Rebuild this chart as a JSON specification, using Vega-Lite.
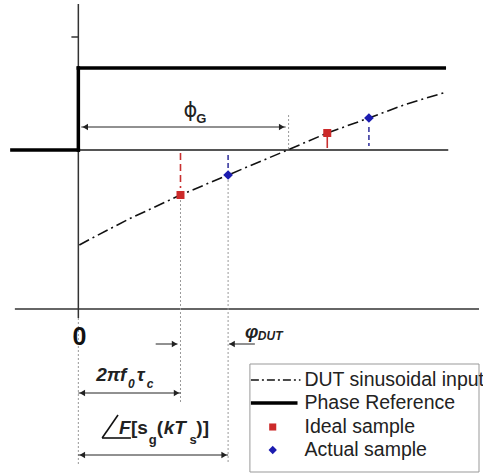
{
  "$schema": "https://vega.github.io/schema/vega-lite/v6.json",
  "width": 483,
  "height": 474,
  "autosize": {"type": "fit", "contains": "padding"},
  "padding": 0,
  "background": "white",
  "config": {"view": {"stroke": null}, "text": {"font": "Liberation Sans"}},
  "datasets": {
    "segs": [
      {"x": 0, "y": 1.46, "x2": 0, "y2": -1.68, "k": "axis"},
      {"x": -0.07, "y": 1.13, "x2": 0, "y2": 1.13, "k": "axis"},
      {"x": -0.64, "y": -1.59, "x2": 4.04, "y2": -1.59, "k": "axis"},
      {"x": 0, "y": 0, "x2": 3.73, "y2": 0, "k": "zero"},
      {"x": -0.67, "y": 0, "x2": 0, "y2": 0, "k": "ref"},
      {"x": 0, "y": 0, "x2": 0, "y2": 0.82, "k": "ref"},
      {"x": 0, "y": 0.82, "x2": 3.69, "y2": 0.82, "k": "ref"},
      {"x": 2.12, "y": 0.35, "x2": 2.12, "y2": 0, "k": "dot"},
      {"x": 1.03, "y": -0.5, "x2": 1.03, "y2": -2.52, "k": "dot"},
      {"x": 1.51, "y": -0.3, "x2": 1.51, "y2": -3.13, "k": "dot"},
      {"x": 0, "y": -1.68, "x2": 0, "y2": -3.15, "k": "dot"},
      {"x": 1.03, "y": -0.03, "x2": 1.03, "y2": -0.38, "k": "rdash"},
      {"x": 1.51, "y": -0.05, "x2": 1.51, "y2": -0.2, "k": "bdash"},
      {"x": 2.93, "y": 0.23, "x2": 2.93, "y2": 0.04, "k": "bdash"},
      {"x": 2.51, "y": 0.13, "x2": 2.51, "y2": 0.02, "k": "rsolid"},
      {"x": 0.03, "y": 0.23, "x2": 2.09, "y2": 0.23, "k": "arrow"},
      {"x": 0.78, "y": -1.94, "x2": 1.0, "y2": -1.94, "k": "arrow"},
      {"x": 1.78, "y": -1.94, "x2": 1.52, "y2": -1.94, "k": "arrow"},
      {"x": 0, "y": -2.43, "x2": 1.03, "y2": -2.43, "k": "arrow"},
      {"x": 0, "y": -3.05, "x2": 1.51, "y2": -3.05, "k": "arrow"},
      {"x": 0.24, "y": -2.88, "x2": 0.4, "y2": -2.65, "k": "angle"},
      {"x": 0.24, "y": -2.88, "x2": 0.53, "y2": -2.88, "k": "angle"}
    ],
    "wave": [
      {"x": 0.01, "y": -0.95},
      {"x": 0.14, "y": -0.88},
      {"x": 0.51, "y": -0.69},
      {"x": 1.03, "y": -0.45},
      {"x": 1.51, "y": -0.25},
      {"x": 2.11, "y": 0.0},
      {"x": 2.51, "y": 0.17},
      {"x": 2.93, "y": 0.32},
      {"x": 3.31, "y": 0.46},
      {"x": 3.71, "y": 0.58}
    ],
    "ideal": [
      {"x": 1.03, "y": -0.45},
      {"x": 2.51, "y": 0.17}
    ],
    "actual": [
      {"x": 1.51, "y": -0.25},
      {"x": 2.93, "y": 0.32}
    ],
    "heads": [
      {"x": 0.07, "y": 0.23, "d": "left"},
      {"x": 2.05, "y": 0.23, "d": "right"},
      {"x": 0.97, "y": -1.94, "d": "right"},
      {"x": 1.55, "y": -1.94, "d": "left"},
      {"x": 0.04, "y": -2.43, "d": "left"},
      {"x": 0.99, "y": -2.43, "d": "right"},
      {"x": 0.04, "y": -3.05, "d": "left"},
      {"x": 1.47, "y": -3.05, "d": "right"}
    ],
    "labels": [
      {"t": "0", "x": -0.06, "y": -1.87, "k": "big"},
      {"t": "ϕ", "x": 1.06, "y": 0.39, "k": "phi"},
      {"t": "G", "x": 1.19, "y": 0.31, "k": "sub"},
      {"t": "φ", "x": 1.68, "y": -1.82, "k": "bi"},
      {"t": "DUT", "x": 1.81, "y": -1.86, "k": "bisub"},
      {"t": "2π", "x": 0.18, "y": -2.25, "k": "bi"},
      {"t": "f", "x": 0.42, "y": -2.25, "k": "bi"},
      {"t": "0", "x": 0.5, "y": -2.34, "k": "bisub"},
      {"t": "τ", "x": 0.59, "y": -2.25, "k": "bi"},
      {"t": "c", "x": 0.69, "y": -2.34, "k": "bisub"},
      {"t": "F", "x": 0.41, "y": -2.78, "k": "bi"},
      {"t": "[s", "x": 0.53, "y": -2.78, "k": "b"},
      {"t": "g", "x": 0.71, "y": -2.9, "k": "sub"},
      {"t": "(", "x": 0.79, "y": -2.78, "k": "b"},
      {"t": "kT", "x": 0.86, "y": -2.78, "k": "bi"},
      {"t": "s", "x": 1.12, "y": -2.9, "k": "sub"},
      {"t": ")]", "x": 1.19, "y": -2.78, "k": "b"}
    ],
    "box": [{"x": 1.73, "x2": 4.04, "y": -2.14, "y2": -3.22}],
    "legline": [
      {"x": 1.74, "y": -2.3},
      {"x": 2.24, "y": -2.3}
    ],
    "legref": [{"x": 1.74, "y": -2.53, "x2": 2.21, "y2": -2.53}],
    "legideal": [{"x": 1.96, "y": -2.77}],
    "legactual": [{"x": 1.96, "y": -3.0}],
    "legtext": [
      {"t": "DUT sinusoidal input", "x": 2.28, "y": -2.3},
      {"t": "Phase Reference", "x": 2.28, "y": -2.53},
      {"t": "Ideal sample", "x": 2.28, "y": -2.77},
      {"t": "Actual sample", "x": 2.28, "y": -3.0}
    ]
  },
  "encoding": {
    "x": {"field": "x", "type": "quantitative", "scale": {"domain": [-0.79, 4.04], "nice": false, "zero": false}, "axis": null},
    "y": {"field": "y", "type": "quantitative", "scale": {"domain": [-3.24, 1.5], "nice": false, "zero": false}, "axis": null}
  },
  "layer": [
    {"data": {"name": "segs"}, "transform": [{"filter": "datum.k == 'axis'"}], "mark": {"type": "rule", "color": "#333", "strokeWidth": 1.5}, "encoding": {"x2": {"field": "x2"}, "y2": {"field": "y2"}}},
    {"data": {"name": "segs"}, "transform": [{"filter": "datum.k == 'zero'"}], "mark": {"type": "rule", "color": "#555", "strokeWidth": 2.2}, "encoding": {"x2": {"field": "x2"}, "y2": {"field": "y2"}}},
    {"data": {"name": "segs"}, "transform": [{"filter": "datum.k == 'ref'"}], "mark": {"type": "rule", "color": "#000", "strokeWidth": 3.5, "strokeCap": "square"}, "encoding": {"x2": {"field": "x2"}, "y2": {"field": "y2"}}},
    {"data": {"name": "segs"}, "transform": [{"filter": "datum.k == 'dot'"}], "mark": {"type": "rule", "color": "#999", "strokeWidth": 1, "strokeDash": [2, 2]}, "encoding": {"x2": {"field": "x2"}, "y2": {"field": "y2"}}},
    {"data": {"name": "segs"}, "transform": [{"filter": "datum.k == 'rdash'"}], "mark": {"type": "rule", "color": "#c83030", "strokeWidth": 1.6, "strokeDash": [7, 4]}, "encoding": {"x2": {"field": "x2"}, "y2": {"field": "y2"}}},
    {"data": {"name": "segs"}, "transform": [{"filter": "datum.k == 'bdash'"}], "mark": {"type": "rule", "color": "#3a3aa0", "strokeWidth": 1.6, "strokeDash": [5, 3]}, "encoding": {"x2": {"field": "x2"}, "y2": {"field": "y2"}}},
    {"data": {"name": "segs"}, "transform": [{"filter": "datum.k == 'rsolid'"}], "mark": {"type": "rule", "color": "#c83030", "strokeWidth": 1.6}, "encoding": {"x2": {"field": "x2"}, "y2": {"field": "y2"}}},
    {"data": {"name": "segs"}, "transform": [{"filter": "datum.k == 'arrow'"}], "mark": {"type": "rule", "color": "#222", "strokeWidth": 1}, "encoding": {"x2": {"field": "x2"}, "y2": {"field": "y2"}}},
    {"data": {"name": "segs"}, "transform": [{"filter": "datum.k == 'angle'"}], "mark": {"type": "rule", "color": "#111", "strokeWidth": 1.6}, "encoding": {"x2": {"field": "x2"}, "y2": {"field": "y2"}}},
    {"data": {"name": "wave"}, "mark": {"type": "line", "color": "#111", "strokeWidth": 1.6, "strokeDash": [11, 4, 2, 4]}, "encoding": {"order": {"field": "x", "type": "quantitative"}}},
    {"data": {"name": "ideal"}, "mark": {"type": "point", "filled": true, "opacity": 1, "shape": "square", "color": "#cc2a2a", "size": 64}},
    {"data": {"name": "actual"}, "mark": {"type": "point", "filled": true, "opacity": 1, "shape": "diamond", "color": "#1c1cb0", "size": 95}},
    {"data": {"name": "heads"}, "transform": [{"filter": "datum.d == 'left'"}], "mark": {"type": "point", "filled": true, "opacity": 1, "color": "#222", "size": 40, "shape": "triangle-left"}},
    {"data": {"name": "heads"}, "transform": [{"filter": "datum.d == 'right'"}], "mark": {"type": "point", "filled": true, "opacity": 1, "color": "#222", "size": 40, "shape": "triangle-right"}},
    {"data": {"name": "labels"}, "transform": [{"filter": "datum.k == 'big'"}], "mark": {"type": "text", "align": "left", "baseline": "middle", "fontSize": 25, "fontWeight": "bold", "color": "#111"}, "encoding": {"text": {"field": "t"}}},
    {"data": {"name": "labels"}, "transform": [{"filter": "datum.k == 'phi'"}], "mark": {"type": "text", "align": "left", "baseline": "middle", "fontSize": 21, "color": "#222", "font": "DejaVu Sans"}, "encoding": {"text": {"field": "t"}}},
    {"data": {"name": "labels"}, "transform": [{"filter": "datum.k == 'sub'"}], "mark": {"type": "text", "align": "left", "baseline": "middle", "fontSize": 13, "fontWeight": "bold", "color": "#222"}, "encoding": {"text": {"field": "t"}}},
    {"data": {"name": "labels"}, "transform": [{"filter": "datum.k == 'bisub'"}], "mark": {"type": "text", "align": "left", "baseline": "middle", "fontSize": 12, "fontWeight": "bold", "fontStyle": "italic", "color": "#222"}, "encoding": {"text": {"field": "t"}}},
    {"data": {"name": "labels"}, "transform": [{"filter": "datum.k == 'bi'"}], "mark": {"type": "text", "align": "left", "baseline": "middle", "fontSize": 19, "fontWeight": "bold", "fontStyle": "italic", "color": "#222"}, "encoding": {"text": {"field": "t"}}},
    {"data": {"name": "labels"}, "transform": [{"filter": "datum.k == 'b'"}], "mark": {"type": "text", "align": "left", "baseline": "middle", "fontSize": 19, "fontWeight": "bold", "color": "#222"}, "encoding": {"text": {"field": "t"}}},
    {"data": {"name": "box"}, "mark": {"type": "rect", "fill": "white", "stroke": "#999", "strokeWidth": 1}, "encoding": {"x2": {"field": "x2"}, "y2": {"field": "y2"}}},
    {"data": {"name": "legline"}, "mark": {"type": "line", "color": "#111", "strokeWidth": 1.6, "strokeDash": [8, 3, 2, 3]}, "encoding": {}},
    {"data": {"name": "legref"}, "mark": {"type": "rule", "color": "#000", "strokeWidth": 3.5}, "encoding": {"x2": {"field": "x2"}, "y2": {"field": "y2"}}},
    {"data": {"name": "legideal"}, "mark": {"type": "point", "filled": true, "opacity": 1, "shape": "square", "color": "#cc2a2a", "size": 50}},
    {"data": {"name": "legactual"}, "mark": {"type": "point", "filled": true, "opacity": 1, "shape": "diamond", "color": "#1c1cb0", "size": 70}},
    {"data": {"name": "legtext"}, "mark": {"type": "text", "align": "left", "baseline": "middle", "fontSize": 19.5, "color": "#222"}, "encoding": {"text": {"field": "t"}}}
  ]
}
